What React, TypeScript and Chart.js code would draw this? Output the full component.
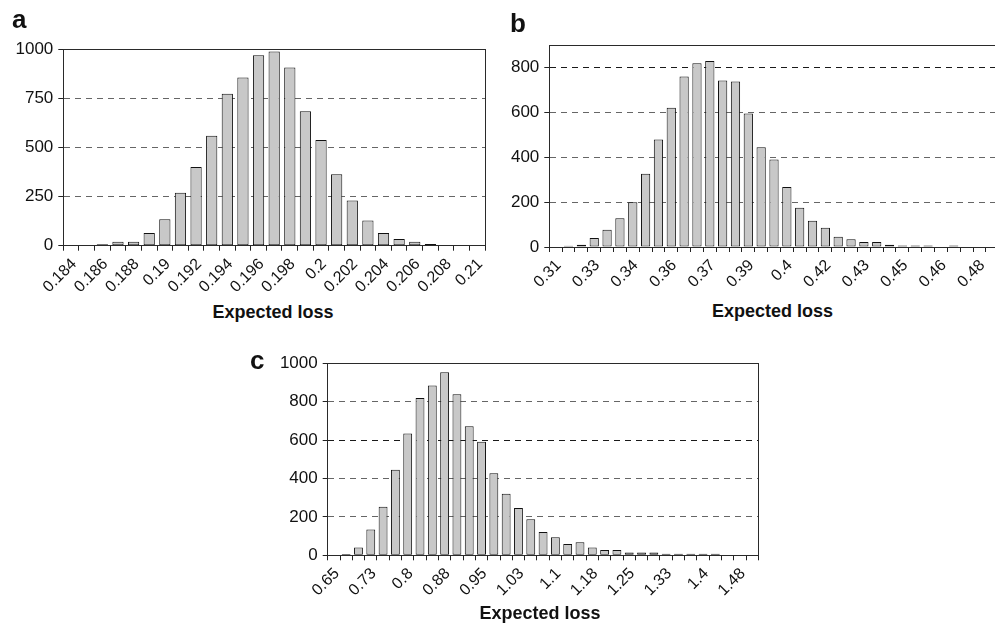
import React, { useEffect, useRef } from 'react';
import { Chart, registerables } from 'chart.js';

Chart.register(...registerables);

// ---------- Panel a ----------
const categoriesA = ['0.184','0.185','0.186','0.187','0.188','0.189','0.19','0.191','0.192','0.193','0.194','0.195','0.196','0.197','0.198','0.199','0.2','0.201','0.202','0.203','0.204','0.205','0.206','0.207','0.208','0.209','0.21'];
const valuesA = [0,0,8,20,20,64,135,269,400,559,772,855,968,987,906,683,537,363,230,128,64,34,20,9,0,0,0];
const tickLabelsA = ['0.184','0.186','0.188','0.19','0.192','0.194','0.196','0.198','0.2','0.202','0.204','0.206','0.208','0.21'];
const yTicksA = [0,250,500,750,1000];

// ---------- Panel b ----------
const categoriesB = ['0.31','0.315','0.32','0.325','0.33','0.335','0.34','0.345','0.35','0.355','0.36','0.365','0.37','0.375','0.38','0.385','0.39','0.395','0.4','0.405','0.41','0.415','0.42','0.425','0.43','0.435','0.44','0.445','0.45','0.455','0.46','0.465','0.47','0.475','0.48'];
const valuesB = [0,6,10,40,77,128,199,326,479,620,760,819,829,742,737,595,444,390,267,175,117,86,46,34,22,22,10,7,7,7,0,7,0,0,0];
const tickLabelsB = ['0.31','0.33','0.34','0.36','0.37','0.39','0.4','0.42','0.43','0.45','0.46','0.48'];
const yTicksB = [0,200,400,600,800];

// ---------- Panel c ----------
const categoriesC = ['0.65','0.675','0.7','0.725','0.75','0.775','0.8','0.825','0.85','0.875','0.9','0.925','0.95','0.975','1','1.025','1.05','1.075','1.1','1.125','1.15','1.175','1.2','1.225','1.25','1.275','1.3','1.325','1.35','1.375','1.4','1.425','1.45','1.475','1.5'];
const valuesC = [0,7,40,134,253,446,634,819,885,953,839,672,592,427,321,247,188,122,94,59,68,40,28,28,14,14,15,8,8,8,8,8,0,0,0];
const tickLabelsC = ['0.65','0.73','0.8','0.88','0.95','1.03','1.1','1.18','1.25','1.33','1.4','1.48'];
const yTicksC = [0,200,400,600,800,1000];

const axisTitle = 'Expected loss';

Chart.defaults.font.family = '"Liberation Sans", Arial, Helvetica, sans-serif';

type Spec = {
  left: number; top: number; width: number; height: number;
  pad: { top: number; right: number; bottom: number; left: number };
  yWidth: number; xHeight: number;
  cats: string[]; values: number[]; tickLabels: string[]; every: number;
  yMax: number; yTicks: number[]; darkLines: number[];
};

const align = (v: number) => Math.round(v - 0.5) + 0.5;

const framePlugin = {
  id: 'frame',
  afterDatasetsDraw(chart: any) {
    const { ctx, chartArea } = chart;
    const l = align(chartArea.left), t = align(chartArea.top);
    const r = align(chartArea.right), b = align(chartArea.bottom);
    ctx.save();
    ctx.strokeStyle = '#2a2a2a';
    ctx.lineWidth = 1;
    ctx.setLineDash([]);
    ctx.strokeRect(l, t, r - l, b - t);
    ctx.restore();
  },
};

function Panel({ spec }: { spec: Spec }) {
  const ref = useRef<HTMLCanvasElement | null>(null);
  useEffect(() => {
    if (!ref.current) return;
    const s = spec;
    const chart = new Chart(ref.current, {
      type: 'bar',
      data: {
        labels: s.cats,
        datasets: [{
          data: s.values,
          backgroundColor: '#c8c8c8',
          borderColor: '#111111',
          borderWidth: 1,
          borderSkipped: false,
          barPercentage: 0.72,
          categoryPercentage: 1,
        }],
      },
      options: {
        responsive: false,
        animation: false,
        events: [],
        layout: { padding: s.pad },
        plugins: { legend: { display: false }, tooltip: { enabled: false }, title: { display: false } },
        scales: {
          x: {
            type: 'category',
            offset: true,
            afterFit: (scale: any) => { scale.height = s.xHeight; },
            grid: { drawOnChartArea: false, drawTicks: true, tickLength: 5, tickColor: '#222', offset: true },
            border: { display: true, color: '#2a2a2a', width: 1 },
            ticks: {
              autoSkip: false,
              minRotation: 45,
              maxRotation: 45,
              padding: 4,
              labelOffset: 3,
              color: '#111',
              font: { size: 16 },
              callback: (_v: any, i: number) => (i % s.every === 0 ? s.tickLabels[i / s.every] ?? '' : ''),
            },
          },
          y: {
            type: 'linear',
            min: 0,
            max: s.yMax,
            bounds: 'data',
            afterFit: (scale: any) => { scale.width = s.yWidth; },
            afterBuildTicks: (scale: any) => { scale.ticks = s.yTicks.map((v) => ({ value: v })); },
            grid: {
              drawTicks: true,
              tickLength: 5,
              tickColor: '#222',
              lineWidth: 1,
              color: (ctx: any) => {
                const v = ctx.tick ? ctx.tick.value : null;
                if (v === null || v === 0 || v >= s.yMax) return 'rgba(0,0,0,0)';
                return s.darkLines.includes(v) ? '#1a1a1a' : '#666666';
              },
            },
            border: { display: true, color: '#2a2a2a', width: 1, dash: [6, 5] },
            ticks: {
              padding: 5,
              color: '#111',
              font: { size: 17 },
              callback: (v: any) => String(v),
            },
          },
        },
      } as any,
      plugins: [framePlugin],
    });
    return () => chart.destroy();
  }, [spec]);
  return (
    <canvas
      ref={ref}
      width={spec.width}
      height={spec.height}
      style={{ position: 'absolute', left: spec.left, top: spec.top, width: spec.width, height: spec.height }}
    />
  );
}

const specA: Spec = {
  left: 0, top: 0, width: 495, height: 300,
  pad: { top: 49, right: 9.5, bottom: 0, left: 0 },
  yWidth: 63.3, xHeight: 54.3,
  cats: categoriesA, values: valuesA, tickLabels: tickLabelsA, every: 2,
  yMax: 1000, yTicks: yTicksA, darkLines: [],
};

const specB: Spec = {
  left: 500, top: 0, width: 510, height: 300,
  pad: { top: 45, right: 10, bottom: 0, left: 0 },
  yWidth: 49.3, xHeight: 53,
  cats: categoriesB, values: valuesB, tickLabels: tickLabelsB, every: 3,
  yMax: 900, yTicks: yTicksB, darkLines: [800],
};

const specC: Spec = {
  left: 240, top: 330, width: 530, height: 295,
  pad: { top: 33.3, right: 8.3, bottom: 0, left: 0 },
  yWidth: 87.7, xHeight: 69.7,
  cats: categoriesC, values: valuesC, tickLabels: tickLabelsC, every: 3,
  yMax: 1000, yTicks: yTicksC, darkLines: [600],
};

const letterStyle = (left: number, top: number): React.CSSProperties => ({
  position: 'absolute', left, top, fontFamily: '"Liberation Sans", Arial, sans-serif',
  fontWeight: 'bold', fontSize: 26, lineHeight: '26px', color: '#111',
});

const titleStyle = (center: number, top: number): React.CSSProperties => ({
  position: 'absolute', left: center - 100, top, width: 200, textAlign: 'center',
  fontFamily: '"Liberation Sans", Arial, sans-serif', fontWeight: 'bold', fontSize: 18,
  lineHeight: '18px', color: '#111', whiteSpace: 'nowrap',
});

export default function App() {
  return (
    <div style={{ position: 'absolute', left: 0, top: 0, width: 995, height: 625, overflow: 'hidden', background: '#fff' }}>
      <Panel spec={specA} />
      <Panel spec={specB} />
      <Panel spec={specC} />
      <div style={letterStyle(12, 6)}>a</div>
      <div style={letterStyle(510, 10)}>b</div>
      <div style={letterStyle(250, 347)}>c</div>
      <div style={titleStyle(273, 303)}>{axisTitle}</div>
      <div style={titleStyle(772.5, 302)}>{axisTitle}</div>
      <div style={titleStyle(540, 604)}>{axisTitle}</div>
    </div>
  );
}
